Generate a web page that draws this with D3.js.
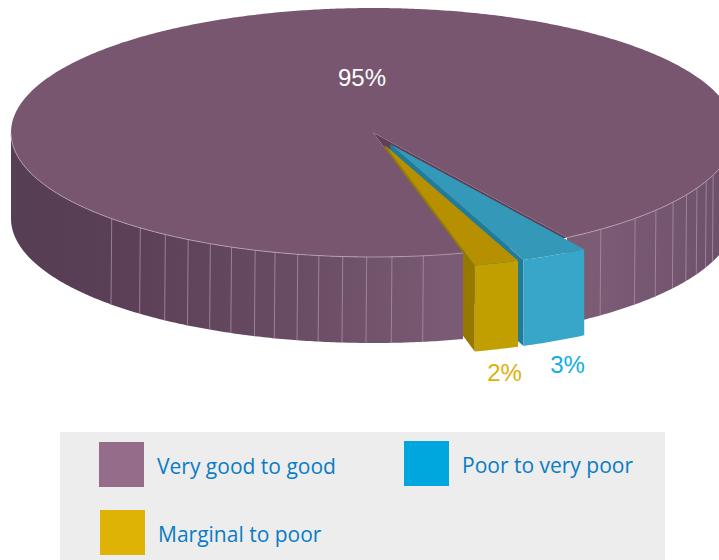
<!DOCTYPE html>
<html>
<head>
<meta charset="utf-8">
<script src="https://cdn.jsdelivr.net/npm/d3@7/dist/d3.min.js"></script>
<style>
html,body{margin:0;padding:0;background:#fff;}
svg{display:block;}
text{font-family:"Open Sans",sans-serif;}
</style>
</head>
<body>
<svg id="chart" width="719" height="560"></svg>
<script>
// Survey shares, drawn as an extruded pie with the two small slices pulled out.
const categories = ["Very good to good", "Poor to very poor", "Marginal to poor"];
const shares = [95, 3, 2];
const shareLabels = ["95%", "3%", "2%"];
const swatchColours = ["#966c8b", "#00a7de", "#deb306"];
const labelColours = ["#ffffff", "#12ade2", "#dfb008"];

// Side-wall seams, in degrees clockwise from the east of the disc.
const seamAngles = [136.2, 130, 125, 120.7, 116.7, 113, 109, 105.7, 102, 98.6, 94.8, 91, 87, 82, 51, 43.6, 38.6, 34, 30, 26.5, 23, 20];

const svg = d3.select("#chart");
const defs = svg.append("defs");
const rad = Math.PI / 180;

// The disc is a unit circle projected on screen by two linear scales.
const sx = d3.scaleLinear().domain([-1, 1]).range([11, 735]);
const sy = d3.scaleLinear().domain([-1, 1]).range([8, 257]);
const depth = 86;
const pull = 0.105;

// Angles follow d3.pie: zero at twelve o'clock, running clockwise.
const pie = d3.pie().sort(null).value(d => d)
  .startAngle(165.6 * rad).endAngle((165.6 + 360) * rad);
const arcs = pie(shares);

const unit = (a, r = 1) => [r * Math.sin(a), -r * Math.cos(a)];
const toScreen = ([u, v], dy = 0) => [sx(u), sy(v) + dy];
const path = d3.line();

function rim(a0, a1, r0 = [0, 0], dy = 0) {
  const n = Math.max(2, Math.ceil(Math.abs(a1 - a0) / (0.5 * rad)));
  return d3.range(n + 1).map(i => {
    const a = a0 + (a1 - a0) * i / n;
    const [u, v] = unit(a);
    return toScreen([u + r0[0], v + r0[1]], dy);
  });
}
const offsetOf = d => {
  const mid = (d.startAngle + d.endAngle) / 2;
  return unit(mid, pull);
};

const wallGrad = defs.append("linearGradient").attr("id", "wall")
  .attr("gradientUnits", "userSpaceOnUse").attr("x1", 0).attr("x2", 719).attr("y1", 0).attr("y2", 0);
[[0.01, "#563e54"], [0.16, "#5a3f57"], [0.3, "#62465d"], [0.45, "#6c4f67"], [0.62, "#7a5a74"], [0.82, "#7c5b75"], [0.93, "#745670"], [1, "#6d5069"]]
  .forEach(([o, c]) => wallGrad.append("stop").attr("offset", o).attr("stop-color", c));

const [main, poor, marginal] = arcs;
const blockOffsets = [offsetOf(poor), offsetOf(marginal)];
const centre = toScreen([0, 0]);

// Cut faces of the pulled slices sit behind the main slab.
function cutFace(angle, off, fill) {
  const apex = toScreen(off);
  const edge = unit(angle);
  const tip = toScreen([edge[0] + off[0], edge[1] + off[1]]);
  const poly = [apex, tip, [tip[0], tip[1] + depth], [apex[0], apex[1] + depth]];
  svg.append("path").attr("d", path(poly) + "Z").attr("fill", fill);
}
svg.append("path")
  .attr("d", path([centre, ...rim(poor.startAngle, marginal.endAngle)]) + "Z")
  .attr("fill", "#5c4059");
cutFace(poor.endAngle, blockOffsets[0], "#217c99");
cutFace(marginal.endAngle, blockOffsets[1], "#967800");

// Main slab: front wall either side of the notch, then the top face.
const wallSpans = [[main.startAngle, main.startAngle + (275 - 147.6 + 147.6 - 165.6 + 0) * rad * 0 + (270 - 165.6) * rad],
                   [90 * rad + 360 * rad, main.endAngle]];
wallSpans.forEach(([a0, a1]) => {
  const upper = rim(a0, a1);
  const lower = rim(a1, a0, [0, 0], depth);
  svg.append("path").attr("d", path([...upper, ...lower]) + "Z").attr("fill", "url(#wall)");
});
seamAngles.forEach(t => {
  const [u, v] = unit((t + 90) * rad);
  const p = toScreen([u, v]);
  svg.append("line").attr("x1", p[0]).attr("y1", p[1]).attr("x2", p[0] - 0.7).attr("y2", p[1] + depth)
    .attr("stroke", "#a88fa3").attr("stroke-width", 0.8);
});
svg.append("path")
  .attr("d", path([centre, ...rim(main.startAngle, main.endAngle)]) + "Z")
  .attr("fill", "#79566f");
wallSpans.forEach(([a0, a1]) => {
  svg.append("path").attr("d", path(rim(a0, a1))).attr("fill", "none")
    .attr("stroke", "#bba8b7").attr("stroke-width", 0.8);
});

// Pulled-out slices: front wall and top face.
function block(d, off, frontFill, topFill) {
  const upper = rim(d.startAngle, d.endAngle, off);
  const lower = rim(d.endAngle, d.startAngle, off, depth);
  svg.append("path").attr("d", path([...upper, ...lower]) + "Z").attr("fill", frontFill);
  svg.append("path").attr("d", path([toScreen(off), ...upper]) + "Z").attr("fill", topFill);
}
block(poor, blockOffsets[0], "#38a6c8", "#3498b8");
block(marginal, blockOffsets[1], "#c29f00", "#b69000");

// Share labels.
const labelSpots = [
  { t: toScreen(unit(0, 0)), dx: -11, dy: -49, size: 26 },
  { t: toScreen(blockOffsets[0]), dx: 0, dy: 0, size: 26 },
  { t: toScreen(blockOffsets[1]), dx: 0, dy: 0, size: 26 }
];
const labelAnchors = arcs.map((d, i) => {
  if (i === 0) return [centre[0] - 11, centre[1] - 47];
  const mid = unit((d.startAngle + d.endAngle) / 2);
  const off = blockOffsets[i - 1];
  const p = toScreen([mid[0] + off[0], mid[1] + off[1]], depth);
  return [p[0] + (i === 1 ? 13 : 8), p[1] + 32];
});
svg.selectAll("text.share").data(shareLabels).join("text")
  .attr("class", "share")
  .attr("x", (d, i) => labelAnchors[i][0])
  .attr("y", (d, i) => labelAnchors[i][1])
  .attr("text-anchor", "middle")
  .attr("font-size", 24)
  .style("font-family", "'Liberation Sans', sans-serif")
  .attr("fill", (d, i) => labelColours[i])
  .text(d => d);

// Legend panel.
svg.append("rect").attr("x", 60).attr("y", 432).attr("width", 605).attr("height", 128).attr("fill", "#ededed");
const legendX = d3.scaleOrdinal().domain(categories).range([99, 404, 100]);
const legendY = d3.scaleOrdinal().domain(categories).range([442, 441, 510]);
const legend = svg.selectAll("g.key").data(categories).join("g").attr("class", "key")
  .attr("transform", d => `translate(${legendX(d)},${legendY(d)})`);
legend.append("rect").attr("width", 45).attr("height", 45).attr("fill", (d, i) => swatchColours[i]);
legend.append("text").attr("x", 58).attr("y", 32)
  .attr("font-size", 21).attr("fill", "#0a7cc4").text(d => d);
</script>
</body>
</html>
